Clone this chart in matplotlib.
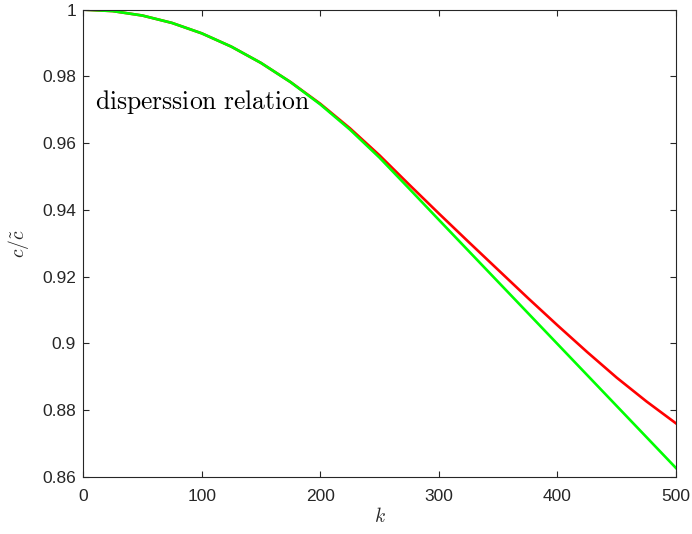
import matplotlib
matplotlib.use("Agg")
import matplotlib.pyplot as plt
from matplotlib.ticker import FormatStrFormatter

plt.rcParams["mathtext.fontset"] = "cm"
plt.rcParams["font.family"] = ["Liberation Sans", "DejaVu Sans"]

# values
k = [0, 25, 50, 75, 100, 125, 150, 175, 200, 225, 250,
     275, 300, 325, 350, 375, 400, 425, 450, 475, 500]
ratio_red = [1.0, 0.99956, 0.99823, 0.99601, 0.99290, 0.98891, 0.98403,
             0.97828, 0.97180, 0.96446, 0.95633, 0.94755, 0.93891, 0.93041,
             0.92201, 0.91361, 0.90541, 0.89741, 0.88971, 0.88261, 0.87601]
ratio_green = [1.0, 0.99956, 0.99823, 0.99601, 0.99290, 0.98891, 0.98403,
               0.97826, 0.97160, 0.96406, 0.95563, 0.94635, 0.93701, 0.92771,
               0.91841, 0.90911, 0.89981, 0.89051, 0.88121, 0.87191, 0.86261]
xticks = [0, 100, 200, 300, 400, 500]
yticks = [0.86, 0.88, 0.9, 0.92, 0.94, 0.96, 0.98, 1.0]

axis_col = (0.15, 0.15, 0.15)

fig = plt.figure(figsize=(6.92, 5.34), dpi=100)
ax = fig.add_axes([0.12, 0.107, 0.857, 0.875])

ax.plot(k, ratio_red, color=(1, 0, 0), lw=1.9)
ax.plot(k, ratio_green, color=(0, 1, 0), lw=1.9)

ax.set_xlim(0, 500)
ax.set_ylim(0.86, 1.0)
ax.set_xticks(xticks)
ax.set_yticks(yticks)
ax.yaxis.set_major_formatter(FormatStrFormatter("%g"))

ax.tick_params(direction="in", length=4, width=0.8, colors=axis_col,
               labelsize=12.5, top=True, right=True)
ax.tick_params(axis="x", pad=9)
ax.tick_params(axis="y", pad=5)
for s in ax.spines.values():
    s.set_color(axis_col)
    s.set_linewidth(0.8)

ax.set_xlabel(r"$k$", fontsize=14, color=axis_col, labelpad=2)
ax.set_ylabel(r"$c/\tilde{c}$", fontsize=14, color=axis_col, labelpad=8)

ax.text(10, 0.9724, r"$\mathrm{disperssion\ relation}$", fontsize=18.4,
        color="black", va="center", ha="left")

fig.savefig("out.png", dpi=100)
